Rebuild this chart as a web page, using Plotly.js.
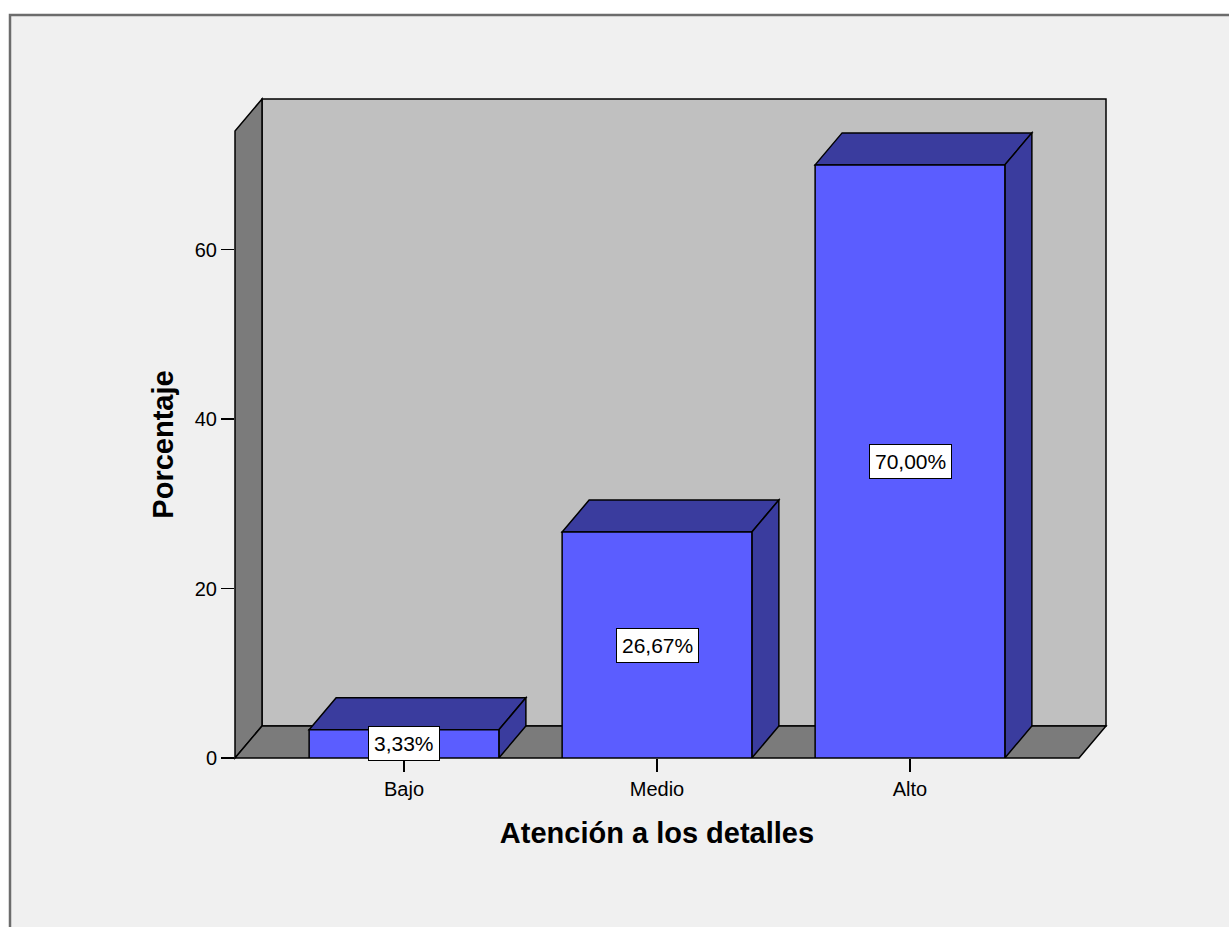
<!DOCTYPE html>
<html>
<head>
<meta charset="utf-8">
<script src="https://cdn.plot.ly/plotly-3.0.1.min.js"></script>
<style>html,body{margin:0;padding:0;background:#fff;}#chart{width:1229px;height:927px;}</style>
</head>
<body>
<div id="chart"></div>
<script>
const categories = ['Bajo', 'Medio', 'Alto'];
const percentages = [3.33, 26.67, 70.00];
const barLabels = ['3,33%', '26,67%', '70,00%'];
const yTickValues = [0, 20, 40, 60];
const xTitle = 'Atención a los detalles';
const yTitle = 'Porcentaje';

// layout geometry
const W = 1229, H = 927;
const M = {l: 235, r: 150, t: 131, b: 169};
const plotW = W - M.l - M.r, plotH = H - M.t - M.b;
const xRange = [-0.668, 2.668];
const yRange = [0, 74];
const DX = 27, DY = 32;           // 3D depth offset in pixels
const BW = 0.75;                  // bar width in category units
const dxU = DX * (xRange[1] - xRange[0]) / plotW;
const dyU = DY * (yRange[1] - yRange[0]) / plotH;
const dxP = DX / plotW, dyP = DY / plotH;
const px2pX = p => (p - M.l) / plotW;
const px2pY = p => (H - M.b - p) / plotH;

const FRONT = '#5b5dff', DARK = '#3a3c9e';
const WALL = '#c0c0c0', SIDE = '#7b7b7b';
const FONT = 'Liberation Sans, Arial, sans-serif';
const edge = {color: '#000', width: 1.5};

const xs = categories.map((c, i) => i);

const shapes = [];
// outer frame
shapes.push({type: 'rect', xref: 'paper', yref: 'paper', layer: 'below',
  x0: px2pX(10), x1: px2pX(1260), y0: px2pY(960), y1: px2pY(15),
  fillcolor: '#f0f0f0', line: {color: '#6c6c6c', width: 2.5}});
// back wall
shapes.push({type: 'rect', xref: 'paper', yref: 'paper', layer: 'below',
  x0: dxP, x1: 1 + dxP, y0: dyP, y1: 1 + dyP, fillcolor: WALL, line: edge});
// left wall
shapes.push({type: 'path', xref: 'paper', yref: 'paper', layer: 'below',
  path: `M 0,0 L ${dxP},${dyP} L ${dxP},${1 + dyP} L 0,1 Z`, fillcolor: SIDE, line: edge});
// floor
shapes.push({type: 'path', xref: 'paper', yref: 'paper', layer: 'below',
  path: `M 0,0 L 1,0 L ${1 + dxP},${dyP} L ${dxP},${dyP} Z`, fillcolor: SIDE, line: edge});

// bar top & side faces from data
xs.forEach((x, i) => {
  const v = percentages[i];
  const x0 = x - BW / 2, x1 = x + BW / 2;
  shapes.push({type: 'path', xref: 'x', yref: 'y', layer: 'below', fillcolor: DARK, line: edge,
    path: `M ${x0},${v} L ${x0 + dxU},${v + dyU} L ${x1 + dxU},${v + dyU} L ${x1},${v} Z`});
  shapes.push({type: 'path', xref: 'x', yref: 'y', layer: 'below', fillcolor: DARK, line: edge,
    path: `M ${x1},0 L ${x1 + dxU},${dyU} L ${x1 + dxU},${v + dyU} L ${x1},${v} Z`});
});

const annotations = xs.map((x, i) => ({
  x: x, y: percentages[i] / 2, xref: 'x', yref: 'y', text: barLabels[i], showarrow: false,
  bgcolor: '#ffffff', bordercolor: '#000', borderwidth: 1, borderpad: 5,
  font: {family: FONT, size: 21, color: '#000'}
}));

const trace = {
  type: 'bar', x: xs, y: percentages, width: BW,
  marker: {color: FRONT, line: edge},
  hoverinfo: 'none', textposition: 'none'
};

const layout = {
  width: W, height: H, margin: M,
  paper_bgcolor: '#ffffff', plot_bgcolor: 'rgba(0,0,0,0)',
  showlegend: false,
  font: {family: FONT, size: 20, color: '#000'},
  xaxis: {
    type: 'linear', range: xRange, tickvals: xs, ticktext: categories,
    ticks: 'outside', ticklen: 13, tickwidth: 1.5, tickcolor: '#000',
    showgrid: false, zeroline: false, showline: false, fixedrange: true,
    tickfont: {family: FONT, size: 20, color: '#000'},
    title: {text: xTitle, font: {family: FONT, size: 29, color: '#000', weight: 'bold'}, standoff: 23}
  },
  yaxis: {
    range: yRange, tickvals: yTickValues, ticktext: yTickValues.map(String),
    ticks: 'outside', ticklen: 13, tickwidth: 1.5, tickcolor: '#000',
    showgrid: false, zeroline: false, showline: false, fixedrange: true,
    tickfont: {family: FONT, size: 20, color: '#000'},
    title: {text: yTitle, font: {family: FONT, size: 29, color: '#000', weight: 'bold'}, standoff: 12}
  },
  shapes: shapes,
  annotations: annotations
};

Plotly.newPlot('chart', [trace], layout, {displayModeBar: false, staticPlot: true});
</script>
</body>
</html>
